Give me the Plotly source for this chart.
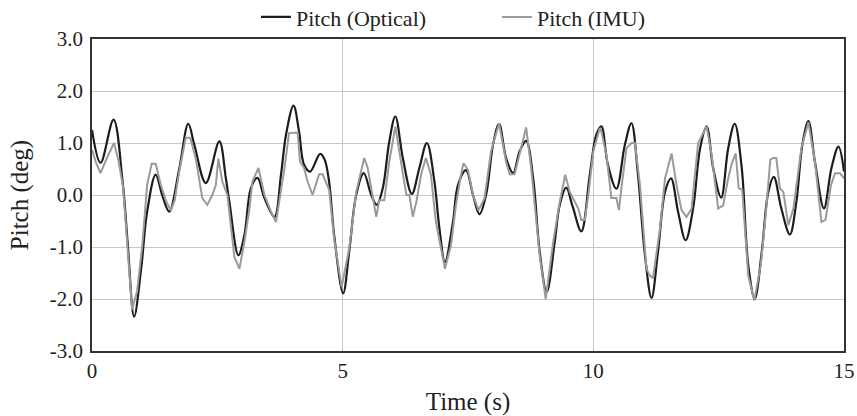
import plotly.graph_objects as go

# Pitch (Optical) - time (s) and value (deg)
optical_t = [0.0, 0.17, 0.43, 0.61, 0.71, 0.84, 0.98, 1.10, 1.27, 1.40, 1.54, 1.74, 1.92, 2.04,
             2.27, 2.54, 2.67, 2.74, 2.92, 3.04, 3.17, 3.30, 3.44, 3.64, 3.77, 3.87, 4.02, 4.13,
             4.23, 4.35, 4.55, 4.64, 4.73, 4.83, 5.01, 5.13, 5.27, 5.42, 5.57, 5.68, 5.80, 5.93,
             6.05, 6.20, 6.38, 6.53, 6.68, 6.83, 6.93, 7.04, 7.20, 7.30, 7.46, 7.60, 7.73, 7.86,
             8.00, 8.12, 8.26, 8.40, 8.53, 8.66, 8.80, 8.93, 9.07, 9.23, 9.33, 9.46, 9.59, 9.76,
             9.93, 10.06, 10.16, 10.29, 10.46, 10.63, 10.76, 10.89, 11.03, 11.16, 11.29, 11.43,
             11.55, 11.69, 11.84, 11.99, 12.13, 12.26, 12.39, 12.55, 12.69, 12.82, 12.96, 13.09,
             13.22, 13.36, 13.49, 13.60, 13.75, 13.92, 14.05, 14.17, 14.29, 14.42, 14.60, 14.75,
             14.89, 15.0]
optical_v = [1.25, 0.62, 1.45, 0.26, -0.9, -2.34, -1.42, -0.32, 0.39, 0.0, -0.32, 0.5, 1.37, 0.97,
             0.23, 1.03, 0.32, -0.13, -1.16, -0.77, 0.13, 0.33, -0.06, -0.42, 0.39, 1.16, 1.72, 1.22,
             0.58, 0.45, 0.79, 0.68, 0.25, -0.77, -1.89, -1.09, 0.0, 0.42, 0.0, -0.19, 0.13, 1.03,
             1.51, 0.71, 0.02, 0.52, 1.0, 0.26, -0.64, -1.29, -0.52, 0.19, 0.48, 0.0, -0.37, 0.0,
             0.97, 1.37, 0.71, 0.42, 0.84, 1.04, 0.32, -1.09, -1.87, -0.9, -0.19, 0.14, -0.23, -0.7,
             0.39, 1.16, 1.32, 0.58, 0.12, 0.97, 1.38, 0.39, -1.16, -1.98, -1.09, 0.06,
             0.32, -0.32, -0.87, -0.26, 0.9, 1.32, 0.52, -0.05, 0.9, 1.37, 0.52, -1.35,
             -2.0, -1.09, 0.06, 0.35, -0.26, -0.76, -0.13, 0.97, 1.42, 0.64, -0.26, 0.52,
             0.93, 0.45]

# Pitch (IMU)
imu_t = [0.0, 0.08, 0.17, 0.30, 0.44, 0.53, 0.62, 0.70, 0.80, 0.90, 1.0, 1.10, 1.19, 1.27, 1.37,
         1.47, 1.57, 1.65, 1.74, 1.87, 1.96, 2.07, 2.20, 2.30, 2.40, 2.47, 2.52, 2.60, 2.70,
         2.84, 2.94, 3.04, 3.14, 3.20, 3.32, 3.44, 3.57, 3.67, 3.77, 3.84, 3.93, 4.0, 4.10,
         4.15, 4.23, 4.30, 4.40, 4.53, 4.60, 4.73, 4.83, 4.98, 5.13, 5.27, 5.43, 5.50, 5.59,
         5.67, 5.73, 5.83, 5.93, 6.05, 6.13, 6.27, 6.33, 6.40, 6.47, 6.57, 6.66, 6.76, 6.86,
         7.04, 7.16, 7.26, 7.36, 7.41, 7.50, 7.60, 7.71, 7.83, 7.96, 8.12, 8.26, 8.33, 8.43,
         8.56, 8.66, 8.76, 8.93, 9.05, 9.20, 9.33, 9.44, 9.53, 9.70, 9.76, 9.83, 9.90, 10.0,
         10.13, 10.16, 10.26, 10.36, 10.46, 10.51, 10.56, 10.66, 10.76, 10.83, 10.93, 11.06,
         11.13, 11.19, 11.33, 11.43, 11.56, 11.66, 11.76, 11.86, 11.96, 12.09, 12.26, 12.36,
         12.49, 12.59, 12.69, 12.76, 12.84, 12.90, 12.97, 13.09, 13.21, 13.34, 13.45, 13.53,
         13.59, 13.65, 13.72, 13.79, 13.89, 13.99, 14.15, 14.29, 14.42, 14.55, 14.63, 14.74,
         14.82, 14.92, 15.0]
imu_v = [0.87, 0.62, 0.42, 0.72, 1.0, 0.65, 0.15, -0.9, -2.2, -1.85, -1.0, 0.2, 0.6, 0.6, 0.2,
         -0.1, -0.3, -0.1, 0.45, 1.1, 1.1, 0.7, -0.06, -0.19, 0.0, 0.19, 0.7, 0.26, 0.0,
         -1.19, -1.42, -0.9, -0.26, 0.26, 0.52, 0.0, -0.32, -0.52, 0.06, 0.52, 1.19, 1.2, 1.2,
         0.64, 0.52, 0.26, 0.0, 0.4, 0.4, 0.1, -0.84, -1.77, -1.03, 0.06, 0.71, 0.52, 0.06,
         -0.42, -0.1, -0.1, 0.64, 1.32, 0.84, 0.0, 0.0, -0.42, -0.13, 0.42, 0.71, 0.39, -0.52,
         -1.42, -0.97, -0.19, 0.39, 0.61, 0.48, 0.0, -0.29, -0.06, 0.84, 1.38, 0.64, 0.4, 0.4,
         0.9, 1.3, 0.52, -1.16, -2.0, -0.9, -0.13, 0.39, 0.06, -0.26, -0.48, -0.48, 0.0, 0.84,
         1.29, 1.22, 0.77, -0.06, -0.06, -0.29, 0.13, 0.9, 1.0, 1.0, 0.19, -1.42,
         -1.55, -1.6, -0.64, 0.32, 0.8, 0.19, -0.29, -0.42, -0.26, 1.0, 1.32, 0.77,
         -0.26, -0.2, 0.32, 0.6, 0.8, 0.13, 0.1, -1.55, -2.03, -1.35, -0.26, 0.68,
         0.71, 0.71, 0.13, 0.06, -0.58, -0.26, 0.9, 1.4, 0.64, -0.52, -0.48, 0.19,
         0.42, 0.42, 0.32]

y_ticks = [-3.0, -2.0, -1.0, 0.0, 1.0, 2.0, 3.0]
y_tick_text = ["-3.0", "-2.0", "-1.0", "0.0", "1.0", "2.0", "3.0"]
x_ticks = [0, 5, 10, 15]

FONT = "Liberation Serif, Times New Roman, serif"

fig = go.Figure()
fig.add_trace(go.Scatter(x=optical_t, y=optical_v, mode="lines", name="Pitch (Optical)",
                         line=dict(color="#1c1c1c", width=2.2, shape="spline", smoothing=1.0)))
fig.add_trace(go.Scatter(x=imu_t, y=imu_v, mode="lines", name="Pitch (IMU)",
                         line=dict(color="#9a9a9a", width=2.0)))

fig.update_layout(
    width=857, height=416,
    margin=dict(l=92, r=13, t=39, b=65, autoexpand=False),
    paper_bgcolor="white", plot_bgcolor="white",
    font=dict(family=FONT, size=21, color="#222222"),
    showlegend=True,
    legend=dict(orientation="h", x=0.218, xanchor="left", y=1.07, yanchor="middle",
                font=dict(size=22), entrywidth=196, bgcolor="rgba(0,0,0,0)"),
    xaxis=dict(range=[0, 15], tickvals=x_ticks, showgrid=True, gridcolor="#c8c8c8", gridwidth=1.2,
               showline=True, linecolor="#333333", linewidth=1.5, mirror=True, zeroline=False,
               ticks="", automargin=False,
               title=dict(text="Time (s)", standoff=14)),
    yaxis=dict(range=[-3, 3], tickvals=y_ticks, ticktext=y_tick_text, showgrid=True,
               gridcolor="#c8c8c8", gridwidth=1.2,
               showline=True, linecolor="#333333", linewidth=1.5, mirror=True, zeroline=False,
               ticks="", ticklabelstandoff=3, automargin=False,
               title=dict(text="Pitch (deg)", standoff=14)),
)

fig.write_html("out.html", config={"displayModeBar": False},
               post_script="document.body.style.margin='0px';")
